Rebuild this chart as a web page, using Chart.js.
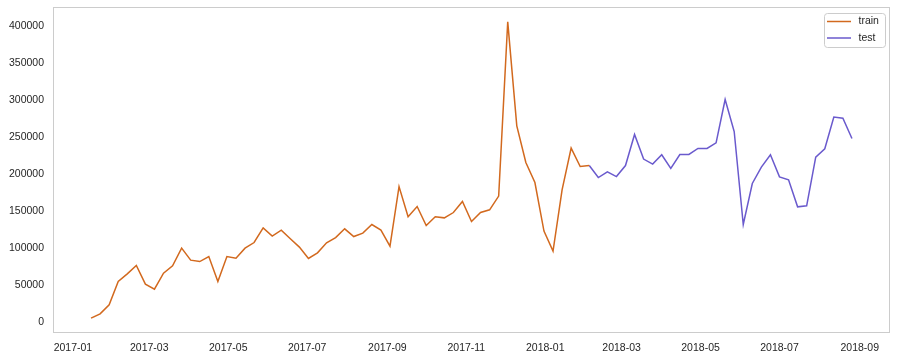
<!DOCTYPE html>
<html>
<head>
<meta charset="utf-8">
<script src="https://cdn.jsdelivr.net/npm/chart.js@4"></script>
<style>
  html, body { margin: 0; padding: 0; background: #ffffff; }
  #wrap { width: 897px; height: 360px; position: relative; }
</style>
</head>
<body>
<div id="wrap"><canvas id="salesChart"></canvas></div>
<script>
// ===============================
// WEEKLY TRAIN / TEST SPLIT CHART
// ===============================

// first week (week ending on Sunday) and number of weeks
const firstWeek = "2017-01-15";
const weekCount = 85;

// weekly totals, train part
const trainValues = [
    5900, 11750, 23900, 55400, 65800, 77000, 51900, 45100, 66700, 76600,
    100500, 84300, 82400, 89200, 55400, 89200, 87000, 100500, 108100, 127900,
    116700, 124800, 113100, 101900, 86500, 94200, 107700, 114800, 126600, 116200,
    120800, 132400, 124800, 103200, 183700, 142800, 156700, 131000, 142800, 141400,
    148600, 163500, 136500, 148600, 152300, 170800, 406200, 265700, 216200, 189100,
    123500, 96500, 179300, 235600, 210800, 212100
];

// weekly totals, test part (starts on the last train week)
const testValues = [
    212100, 195900, 203600, 197200, 212100, 254000, 220800, 214000, 226600, 208100,
    227000, 227000, 235100, 235100, 242800, 301300, 258000, 132400, 187800, 209900,
    226600, 196800, 192800, 156300, 157700, 223500, 234700, 277500, 276100, 248600
];

const xTickLabels = ["2017-01", "2017-03", "2017-05", "2017-07", "2017-09", "2017-11",
                     "2018-01", "2018-03", "2018-05", "2018-07", "2018-09"];
const yTickValues = [0, 50000, 100000, 150000, 200000, 250000, 300000, 350000, 400000];

const seriesLabels = ["train", "test"];
const seriesColors = ["#d2691e", "#6a5acd"];

document.addEventListener("DOMContentLoaded", () => {

    const DAY = 86400000;
    const origin = Date.UTC(2017, 0, 1);

    const dayOf = (str) => {
        const p = str.split("-").map(Number);
        return (Date.UTC(p[0], p[1] - 1, p[2] || 1) - origin) / DAY;
    };

    const firstDay = dayOf(firstWeek);
    const weekDays = [];
    for (let i = 0; i < weekCount; i++) weekDays.push(firstDay + 7 * i);

    const trainData = trainValues.map((v, i) => ({ x: weekDays[i], y: v }));
    const testOffset = trainValues.length - 1;
    const testData = testValues.map((v, i) => ({ x: weekDays[testOffset + i], y: v }));

    const allValues = trainValues.concat(testValues);
    const yLo = Math.min(...allValues), yHi = Math.max(...allValues);
    const yPad = (yHi - yLo) * 0.05;
    const xLo = weekDays[0], xHi = weekDays[weekDays.length - 1];
    const xPad = (xHi - xLo) * 0.05;

    const fontFamily = "'Liberation Sans', Arial, sans-serif";

    // light frame around the plot area
    const framePlugin = {
        id: "frame",
        afterDraw(chart) {
            const a = chart.chartArea;
            const c = chart.ctx;
            c.save();
            c.strokeStyle = "#cccccc";
            c.lineWidth = 1;
            c.strokeRect(a.left + 0.5, a.top + 0.5, a.right - a.left - 1, a.bottom - a.top - 1);
            c.restore();
        }
    };

    // matplotlib style legend box, upper right
    const legendPlugin = {
        id: "boxLegend",
        afterDraw(chart) {
            const a = chart.chartArea;
            const c = chart.ctx;
            const w = 61, h = 34;
            const x0 = a.right - 4.5 - w, y0 = a.top + 6.5;
            c.save();
            c.beginPath();
            c.roundRect(x0, y0, w, h, 3);
            c.fillStyle = "rgba(255,255,255,0.8)";
            c.fill();
            c.strokeStyle = "#cccccc";
            c.lineWidth = 1;
            c.stroke();
            c.font = "10.5px " + fontFamily;
            c.textBaseline = "middle";
            chart.data.datasets.forEach((ds, i) => {
                const yy = y0 + 8 + i * 16.5;
                c.beginPath();
                c.moveTo(x0 + 2.5, yy);
                c.lineTo(x0 + 26.5, yy);
                c.strokeStyle = ds.borderColor;
                c.lineWidth = 1.5;
                c.stroke();
                c.fillStyle = "#262626";
                c.fillText(ds.label, x0 + 34, yy);
            });
            c.restore();
        }
    };

    new Chart(document.getElementById("salesChart"), {

        type: "line",

        data: {
            datasets: [
                {
                    label: seriesLabels[0],
                    data: trainData,
                    borderColor: seriesColors[0],
                    borderWidth: 1.5,
                    pointRadius: 0,
                    tension: 0,
                    fill: false
                },
                {
                    label: seriesLabels[1],
                    data: testData,
                    borderColor: seriesColors[1],
                    borderWidth: 1.5,
                    pointRadius: 0,
                    tension: 0,
                    fill: false
                }
            ]
        },

        options: {
            responsive: true,
            maintainAspectRatio: false,
            animation: false,
            layout: {
                padding: { left: 0, right: 7, top: 7, bottom: 0 }
            },
            plugins: {
                legend: { display: false },
                tooltip: { enabled: false }
            },
            scales: {
                x: {
                    type: "linear",
                    min: xLo - xPad,
                    max: xHi + xPad,
                    grid: { display: false, drawTicks: false },
                    border: { display: false },
                    afterBuildTicks(axis) {
                        axis.ticks = xTickLabels.map(t => ({ value: dayOf(t) }));
                    },
                    afterFit(axis) {
                        axis.height = 27;
                        axis.paddingLeft = 0;
                        axis.paddingRight = 0;
                    },
                    ticks: {
                        color: "#262626",
                        padding: 9,
                        maxRotation: 0,
                        autoSkip: false,
                        font: { family: fontFamily, size: 10.5 },
                        callback: function(value) {
                            const i = xTickLabels.findIndex(t => dayOf(t) === value);
                            return i >= 0 ? xTickLabels[i] : "";
                        }
                    }
                },
                y: {
                    min: yLo - yPad,
                    max: yHi + yPad,
                    grid: { display: false, drawTicks: false },
                    border: { display: false },
                    afterBuildTicks(axis) {
                        axis.ticks = yTickValues.map(v => ({ value: v }));
                    },
                    afterFit(axis) {
                        axis.width = 53;
                        axis.paddingTop = 0;
                        axis.paddingBottom = 0;
                    },
                    ticks: {
                        color: "#262626",
                        padding: 9,
                        font: { family: fontFamily, size: 10.5 },
                        callback: function(value) {
                            return String(value);
                        }
                    }
                }
            }
        },

        plugins: [framePlugin, legendPlugin]

    });

});
</script>
</body>
</html>
